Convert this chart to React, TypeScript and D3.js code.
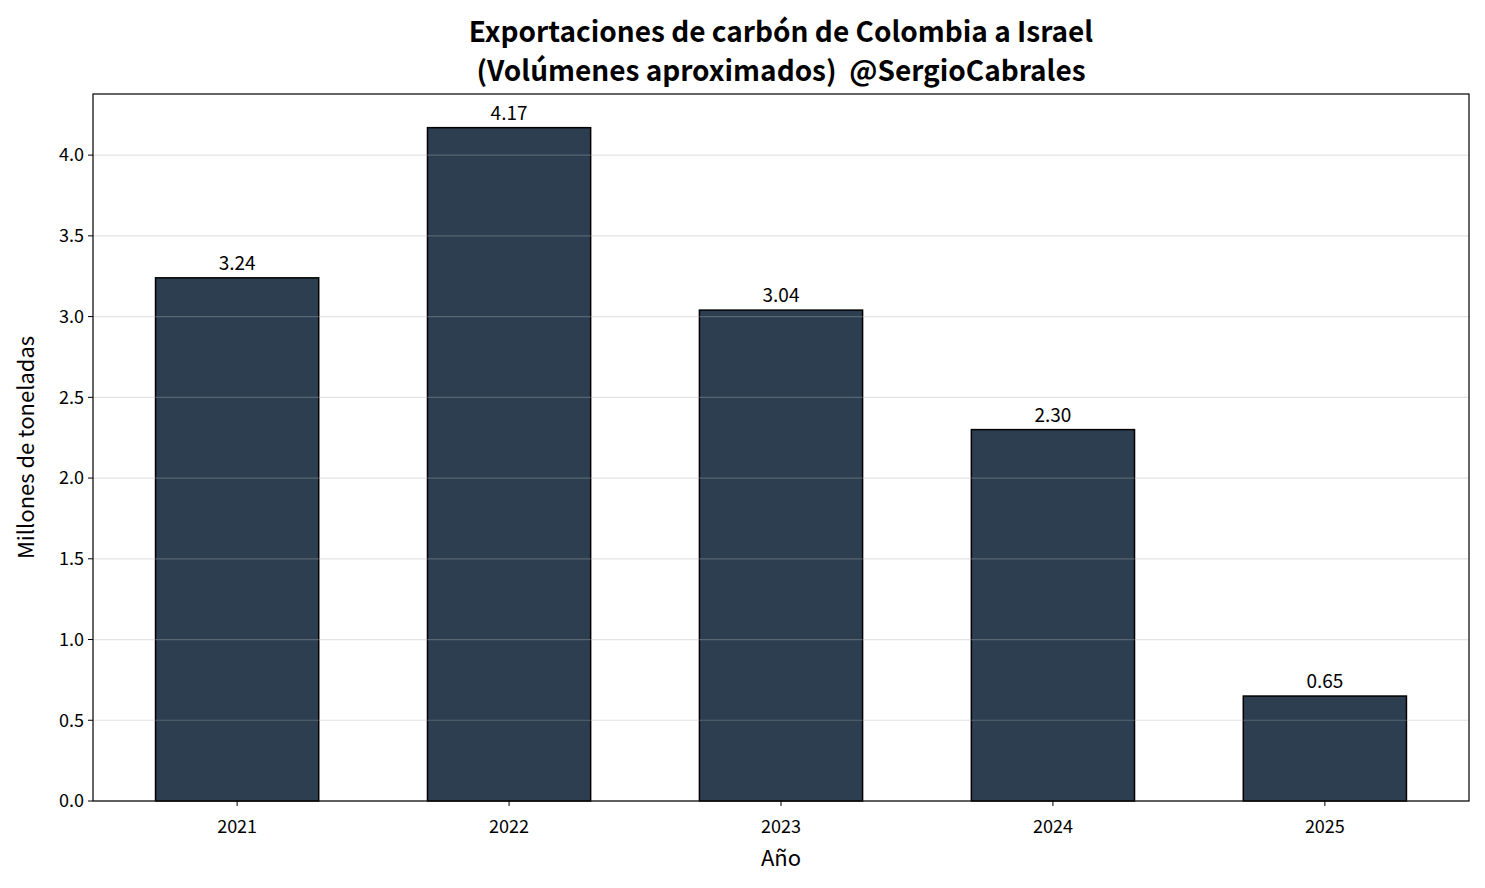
import * as d3 from 'd3';

const years = ['2021', '2022', '2023', '2024', '2025'];
const values = [3.24, 4.17, 3.04, 2.3, 0.65];
const yTicks = [0, 0.5, 1, 1.5, 2, 2.5, 3, 3.5, 4];

const W = 1485, H = 888;
const m = { left: 93, right: 1469, top: 94, bottom: 801 };
const font = '"Noto Sans CJK SC", "Noto Sans", sans-serif';

export default function App() {
  const x = d3.scaleLinear().domain([-0.53, years.length - 1 + 0.53]).range([m.left, m.right]);
  const y = d3.scaleLinear().domain([0, d3.max(values)! * 1.05]).range([m.bottom, m.top]);
  const bw = x(0.6) - x(0);

  return (
    <svg width={W} height={H} style={{ position: 'absolute', left: 0, top: 0, fontFamily: font }}>
      <rect width={W} height={H} fill="#fff" />
      {values.map((v, i) => (
        <rect key={i} x={x(i) - bw / 2} y={y(v)} width={bw} height={y(0) - y(v)}
          fill="#2c3e50" stroke="#000" strokeWidth={1.5} />
      ))}
      {yTicks.map(t => (
        <g key={t}>
          <line x1={m.left} x2={m.right} y1={y(t)} y2={y(t)} stroke="#b0b0b0" strokeOpacity={0.35} strokeWidth={1.2} />
          <line x1={m.left - 5} x2={m.left} y1={y(t)} y2={y(t)} stroke="#000" />
          <text x={m.left - 9} y={y(t)} dy="0.35em" textAnchor="end" fontSize={18}>{t.toFixed(1)}</text>
        </g>
      ))}
      {values.map((v, i) => (
        <text key={i} x={x(i)} y={y(v) - 8} textAnchor="middle" fontSize={19}>{v.toFixed(2)}</text>
      ))}
      {years.map((yr, i) => (
        <g key={yr}>
          <line x1={x(i)} x2={x(i)} y1={m.bottom} y2={m.bottom + 5} stroke="#000" />
          <text x={x(i)} y={m.bottom + 32} textAnchor="middle" fontSize={18}>{yr}</text>
        </g>
      ))}
      <rect x={m.left} y={m.top} width={m.right - m.left} height={m.bottom - m.top} fill="none" stroke="#000" strokeWidth={1.2} />
      <text x={(m.left + m.right) / 2} y={866} textAnchor="middle" fontSize={22}>Año</text>
      <text transform={`translate(34,${(m.top + m.bottom) / 2}) rotate(-90)`} textAnchor="middle" fontSize={22}>Millones de toneladas</text>
      <text x={(m.left + m.right) / 2} y={42} textAnchor="middle" fontSize={28} fontWeight="bold">Exportaciones de carbón de Colombia a Israel</text>
      <text x={(m.left + m.right) / 2} y={81} textAnchor="middle" fontSize={28} fontWeight="bold" style={{ whiteSpace: 'pre' }}>(Volúmenes aproximados)  @SergioCabrales</text>
    </svg>
  );
}
